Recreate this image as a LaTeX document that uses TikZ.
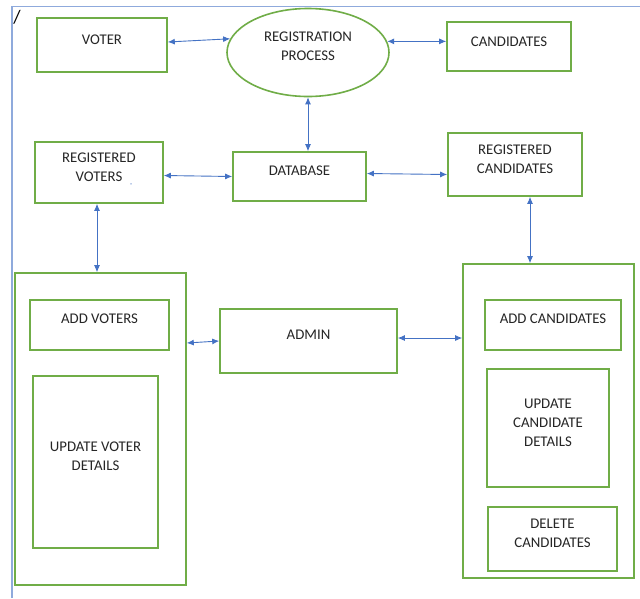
\documentclass[tikz,border=0pt]{standalone}
\usepackage{fontspec}
\setmainfont{Carlito}
\usetikzlibrary{arrows.meta,shapes.geometric}
\definecolor{gline}{HTML}{70AD47}
\definecolor{bline}{HTML}{4472C4}
\definecolor{frame}{HTML}{8FAADC}
\tikzset{
  gbox/.style={draw=gline,line width=1.6pt,rectangle,inner sep=0pt},
  txt/.style={align=center,font=\fontsize{14.8}{19}\selectfont,text=black!85,inner sep=0pt},
  conn/.style={draw=bline,line width=0.9pt,{Latex[length=7pt,width=6pt]}-{Latex[length=7pt,width=6pt]}}
}
\begin{document}
\begin{tikzpicture}[x=1pt,y=-1pt]
\useasboundingbox (0,0) rectangle (640,598);
\fill[white] (0,0) rectangle (640,598);
\node[font=\fontsize{19}{19}\selectfont,inner sep=0pt] (slash) at (17,17) {/};
% top row
\node[gbox,minimum width=130pt,minimum height=54pt] (voter) at (102,45) {};
\node[txt] (voter-t) at (102,40) {VOTER};
\node[gbox,ellipse,minimum width=162pt,minimum height=88pt] (reg) at (308,52.5) {};
\node[txt] (reg-t) at (308,46.5) {REGISTRATION\\PROCESS};
\node[gbox,minimum width=124pt,minimum height=49pt] (cand) at (509,46.5) {};
\node[txt] (cand-t) at (509,42) {CANDIDATES};
% middle row
\node[gbox,minimum width=128pt,minimum height=61pt] (rv) at (99,172.5) {};
\node[txt] (rv-t) at (99,167.5) {REGISTERED\\VOTERS};
\node[font=\fontsize{8}{8}\selectfont,text=bline,inner sep=0pt] (tick) at (131,185) {,};
\node[gbox,minimum width=133pt,minimum height=49pt] (db) at (299.5,176.5) {};
\node[txt] (db-t) at (299.5,171) {DATABASE};
\node[gbox,minimum width=134pt,minimum height=63pt] (rc) at (515,164.5) {};
\node[txt] (rc-t) at (515,159) {REGISTERED\\CANDIDATES};
% bottom left
\node[gbox,minimum width=171pt,minimum height=312pt] (lbig) at (100.5,429) {};
\node[gbox,minimum width=139pt,minimum height=50pt] (addv) at (99.5,325) {};
\node[txt] (addv-t) at (99.5,319) {ADD VOTERS};
\node[gbox,minimum width=125pt,minimum height=172pt] (uvd) at (95.5,462) {};
\node[txt] (uvd-t) at (95.5,456.5) {UPDATE VOTER\\DETAILS};
% admin
\node[gbox,minimum width=177pt,minimum height=64pt] (admin) at (308.5,341) {};
\node[txt] (admin-t) at (308.5,335) {ADMIN};
% bottom right
\node[gbox,minimum width=171pt,minimum height=314pt] (rbig) at (548.5,421) {};
\node[gbox,minimum width=136pt,minimum height=50pt] (addc) at (553,325) {};
\node[txt] (addc-t) at (553,319) {ADD CANDIDATES};
\node[gbox,minimum width=122pt,minimum height=118pt] (ucd) at (548,428) {};
\node[txt] (ucd-t) at (548,422.5) {UPDATE\\CANDIDATE\\DETAILS};
\node[gbox,minimum width=129pt,minimum height=64pt] (del) at (552.5,539) {};
\node[txt] (del-t) at (552.5,533.5) {DELETE\\CANDIDATES};
% connectors
\draw[conn] ([yshift=3pt]voter.east) -- (reg.170);
\draw[conn] (reg.8) -- (reg.8 -| cand.west);
\draw[conn] (reg.south) -- (reg.south |- db.north);
\draw[conn] ([yshift=-3pt]rv.east) -- (db.west);
\draw[conn] ([yshift=3pt]db.east) -- ([yshift=-10pt]rc.west);
\coordinate (rvs) at ([xshift=-2pt]rv.south);
\draw[conn] (rvs) -- (rvs |- lbig.north);
\coordinate (rcs) at ([xshift=15pt]rc.south);
\draw[conn] (rcs) -- (rcs |- rbig.north);
\coordinate (adw) at (admin.west);
\draw[conn] ([yshift=-2pt]adw -| lbig.east) -- (adw);
\coordinate (ade) at ([yshift=3pt]admin.east);
\draw[conn] (ade) -- (ade -| rbig.west);
% frame lines (drawn last)
\coordinate (fc) at (12,6.5);
\coordinate (fr) at (640,6.5);
\coordinate (fb) at (12,598);
\draw[frame,line width=1.4pt] (fb) -- (fc) -- (fr);
\end{tikzpicture}
\end{document}
